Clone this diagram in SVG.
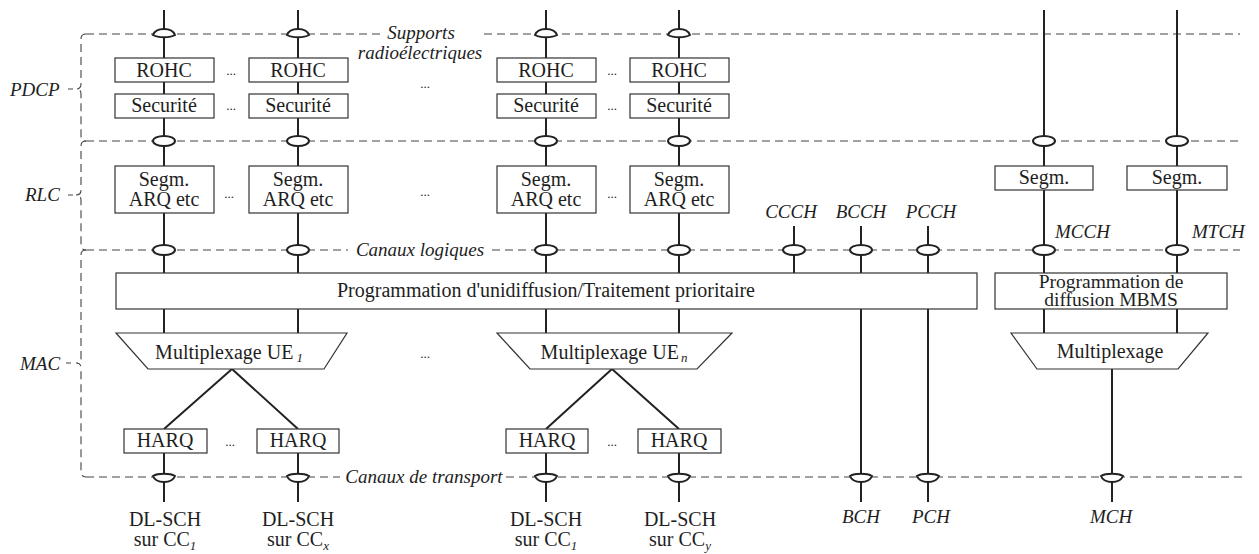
<svg xmlns="http://www.w3.org/2000/svg" width="1259" height="554" viewBox="0 0 1259 554">
<style>
text{font-family:"Liberation Serif","Times New Roman",serif;font-size:20px;fill:#1e1e1e}
.m{text-anchor:middle}
.i{font-style:italic;font-size:19px}
.dots{font-size:13px;text-anchor:middle}
.sub{font-size:13px;font-style:italic}
.box{fill:#fff;stroke:#333;stroke-width:1.2}
.ln{fill:none;stroke:#222;stroke-width:2}
.dash{fill:none;stroke:#444;stroke-width:1.1;stroke-dasharray:8 5}
.ov{fill:#fff;stroke:#222;stroke-width:2}
.two{font-size:19.5px}
</style>
<defs>
<ellipse id="ov" class="ov" cx="0" cy="0" rx="11" ry="5"/>
<path id="ovT" class="ov" d="M-11,1 C-8,-7 8,-7 11,1 C6,4 -6,4 -11,1 Z"/>
<path id="ovB" class="ov" d="M-11,-1 C-6,-4 6,-4 11,-1 C8,7 -8,7 -11,-1 Z"/>
</defs>

<g id="layers">
<path class="dash" d="M86,34 H382 M484,34 H1240"/>
<path class="dash" d="M86,141 H1240"/>
<path class="dash" d="M86,250 H348 M492,250 H1240"/>
<path class="dash" d="M86,477 H340 M506,477 H1242"/>
<path class="dash" d="M86,34 Q81,34 81,39 V84 Q81,89 76,89 Q81,89 81,94 V136 Q81,141 86,141"/>
<path class="dash" d="M86,141 Q81,141 81,146 V190 Q81,195 76,195 Q81,195 81,200 V245 Q81,250 86,250"/>
<path class="dash" d="M86,250 Q81,250 81,255 V358 Q81,363 76,363 Q81,363 81,368 V472 Q81,477 86,477"/>
<path fill="none" stroke="#444" stroke-width="1.1" d="M68,89 H73 M68,195 H73 M66,363 H71"/>
<text class="i" x="10" y="96">PDCP</text>
<text class="i" x="25" y="201">RLC</text>
<text class="i" x="20" y="370">MAC</text>
<text class="i m" x="421" y="39">Supports</text>
<text class="i m" x="420" y="59">radioélectriques</text>
<text class="i m" x="420" y="256">Canaux logiques</text>
<text class="i m" x="424" y="483">Canaux de transport</text>
</g>

<g id="connectors">
<path class="ln" d="M164,10 V58 M164,82 V94 M164,118 V166 M164,213 V273 M164,309 V333 M164,453 V502"/>
<path class="ln" d="M298,10 V58 M298,82 V94 M298,118 V166 M298,213 V273 M298,309 V333 M298,453 V502"/>
<path class="ln" d="M546,10 V58 M546,82 V94 M546,118 V166 M546,213 V273 M546,309 V333 M546,453 V502"/>
<path class="ln" d="M679,10 V58 M679,82 V94 M679,118 V166 M679,213 V273 M679,309 V333 M679,453 V502"/>
<path class="ln" d="M232,369 L164,429 M232,369 L298,429 M612,369 L546,429 M612,369 L679,429"/>
<path class="ln" d="M794,226 V273 M861,226 V273 M861,309 V502 M928,226 V273 M928,309 V502"/>
<path class="ln" d="M1044,10 V166 M1044,190 V273 M1044,309 V333 M1177,10 V166 M1177,190 V273 M1177,309 V333 M1112,369 V502"/>
<use href="#ovT" x="164" y="34"/><use href="#ovT" x="298" y="34"/><use href="#ovT" x="546" y="34"/><use href="#ovT" x="679" y="34"/>
<use href="#ov" x="164" y="141"/><use href="#ov" x="298" y="141"/><use href="#ov" x="546" y="141"/><use href="#ov" x="679" y="141"/><use href="#ov" x="1044" y="141"/><use href="#ov" x="1177" y="141"/>
<use href="#ov" x="164" y="250"/><use href="#ov" x="298" y="250"/><use href="#ov" x="546" y="250"/><use href="#ov" x="679" y="250"/><use href="#ov" x="794" y="250"/><use href="#ov" x="861" y="250"/><use href="#ov" x="928" y="250"/><use href="#ov" x="1044" y="250"/><use href="#ov" x="1177" y="250"/>
<use href="#ovB" x="164" y="477"/><use href="#ovB" x="298" y="477"/><use href="#ovB" x="546" y="477"/><use href="#ovB" x="679" y="477"/><use href="#ovB" x="861" y="477"/><use href="#ovB" x="928" y="477"/><use href="#ovB" x="1112" y="477"/>
</g>

<g id="rohc1"><rect class="box" x="115" y="58" width="99" height="24"/><text class="m" x="164" y="77">ROHC</text></g>
<g id="rohc2"><rect class="box" x="249" y="58" width="99" height="24"/><text class="m" x="298" y="77">ROHC</text></g>
<g id="rohc3"><rect class="box" x="497" y="58" width="99" height="24"/><text class="m" x="546" y="77">ROHC</text></g>
<g id="rohc4"><rect class="box" x="630" y="58" width="99" height="24"/><text class="m" x="679" y="77">ROHC</text></g>
<g id="sec1"><rect class="box" x="115" y="94" width="99" height="24"/><text class="m" x="164" y="112">Securité</text></g>
<g id="sec2"><rect class="box" x="249" y="94" width="99" height="24"/><text class="m" x="298" y="112">Securité</text></g>
<g id="sec3"><rect class="box" x="497" y="94" width="99" height="24"/><text class="m" x="546" y="112">Securité</text></g>
<g id="sec4"><rect class="box" x="630" y="94" width="99" height="24"/><text class="m" x="679" y="112">Securité</text></g>
<g id="seg1"><rect class="box" x="115" y="166" width="99" height="47"/><text class="m" x="164" y="186">Segm.</text><text class="m" x="164" y="206">ARQ etc</text></g>
<g id="seg2"><rect class="box" x="249" y="166" width="99" height="47"/><text class="m" x="298" y="186">Segm.</text><text class="m" x="298" y="206">ARQ etc</text></g>
<g id="seg3"><rect class="box" x="497" y="166" width="99" height="47"/><text class="m" x="546" y="186">Segm.</text><text class="m" x="546" y="206">ARQ etc</text></g>
<g id="seg4"><rect class="box" x="630" y="166" width="99" height="47"/><text class="m" x="679" y="186">Segm.</text><text class="m" x="679" y="206">ARQ etc</text></g>
<g id="segm5"><rect class="box" x="995" y="166" width="98" height="24"/><text class="m" x="1044" y="184">Segm.</text></g>
<g id="segm6"><rect class="box" x="1127" y="166" width="100" height="24"/><text class="m" x="1177" y="184">Segm.</text></g>
<g id="ch-ccch"><text class="i m" x="791" y="218">CCCH</text></g>
<g id="ch-bcch"><text class="i m" x="861" y="218">BCCH</text></g>
<g id="ch-pcch"><text class="i m" x="931" y="218">PCCH</text></g>
<g id="ch-mcch"><text class="i" x="1055" y="238">MCCH</text></g>
<g id="ch-mtch"><text class="i" x="1192" y="238">MTCH</text></g>
<g id="sched"><rect class="box" x="116" y="273" width="861" height="36"/><text class="m" x="546" y="297">Programmation d'unidiffusion/Traitement prioritaire</text></g>
<g id="mbms"><rect class="box" x="995" y="273" width="232" height="36"/><text class="m two" x="1111" y="288">Programmation de</text><text class="m two" x="1111" y="306">diffusion MBMS</text></g>
<g id="mux1"><polygon class="box" points="116,333 347,333 324,369 148,369"/><text class="m" x="229" y="359">Multiplexage UE<tspan class="sub" dx="3" dy="3">1</tspan></text></g>
<g id="mux2"><polygon class="box" points="497,333 732,333 697,369 530,369"/><text class="m" x="614" y="359">Multiplexage UE<tspan class="sub" dx="2" dy="3">n</tspan></text></g>
<g id="mux3"><polygon class="box" points="1011,333 1208,333 1178,369 1037,369"/><text class="m" x="1110" y="358">Multiplexage</text></g>
<g id="harq1"><rect class="box" x="124" y="429" width="83" height="24"/><text class="m" x="165" y="447">HARQ</text></g>
<g id="harq2"><rect class="box" x="257" y="429" width="82" height="24"/><text class="m" x="298" y="447">HARQ</text></g>
<g id="harq3"><rect class="box" x="506" y="429" width="82" height="24"/><text class="m" x="547" y="447">HARQ</text></g>
<g id="harq4"><rect class="box" x="638" y="429" width="83" height="24"/><text class="m" x="679" y="447">HARQ</text></g>
<g id="out1"><text class="m" x="165" y="526">DL-SCH</text><text class="m" x="165" y="546">sur CC<tspan class="sub" dy="4">1</tspan></text></g>
<g id="out2"><text class="m" x="298" y="526">DL-SCH</text><text class="m" x="298" y="546">sur CC<tspan class="sub" dy="4">x</tspan></text></g>
<g id="out3"><text class="m" x="546" y="526">DL-SCH</text><text class="m" x="546" y="546">sur CC<tspan class="sub" dy="4">1</tspan></text></g>
<g id="out4"><text class="m" x="680" y="526">DL-SCH</text><text class="m" x="680" y="546">sur CC<tspan class="sub" dy="4">y</tspan></text></g>
<g id="out-bch"><text class="i m" x="861" y="523">BCH</text></g>
<g id="out-pch"><text class="i m" x="931" y="523">PCH</text></g>
<g id="out-mch"><text class="i m" x="1111" y="523">MCH</text></g>
<g id="ellipsis">
<text class="dots" x="231" y="75">...</text><text class="dots" x="231" y="110">...</text><text class="dots" x="229" y="198">...</text><text class="dots" x="230" y="446">...</text>
<text class="dots" x="612" y="75">...</text><text class="dots" x="612" y="110">...</text><text class="dots" x="612" y="198">...</text><text class="dots" x="612" y="446">...</text>
<text class="dots" x="425" y="88">...</text><text class="dots" x="425" y="196">...</text><text class="dots" x="425" y="358">...</text>
</g>
</svg>
